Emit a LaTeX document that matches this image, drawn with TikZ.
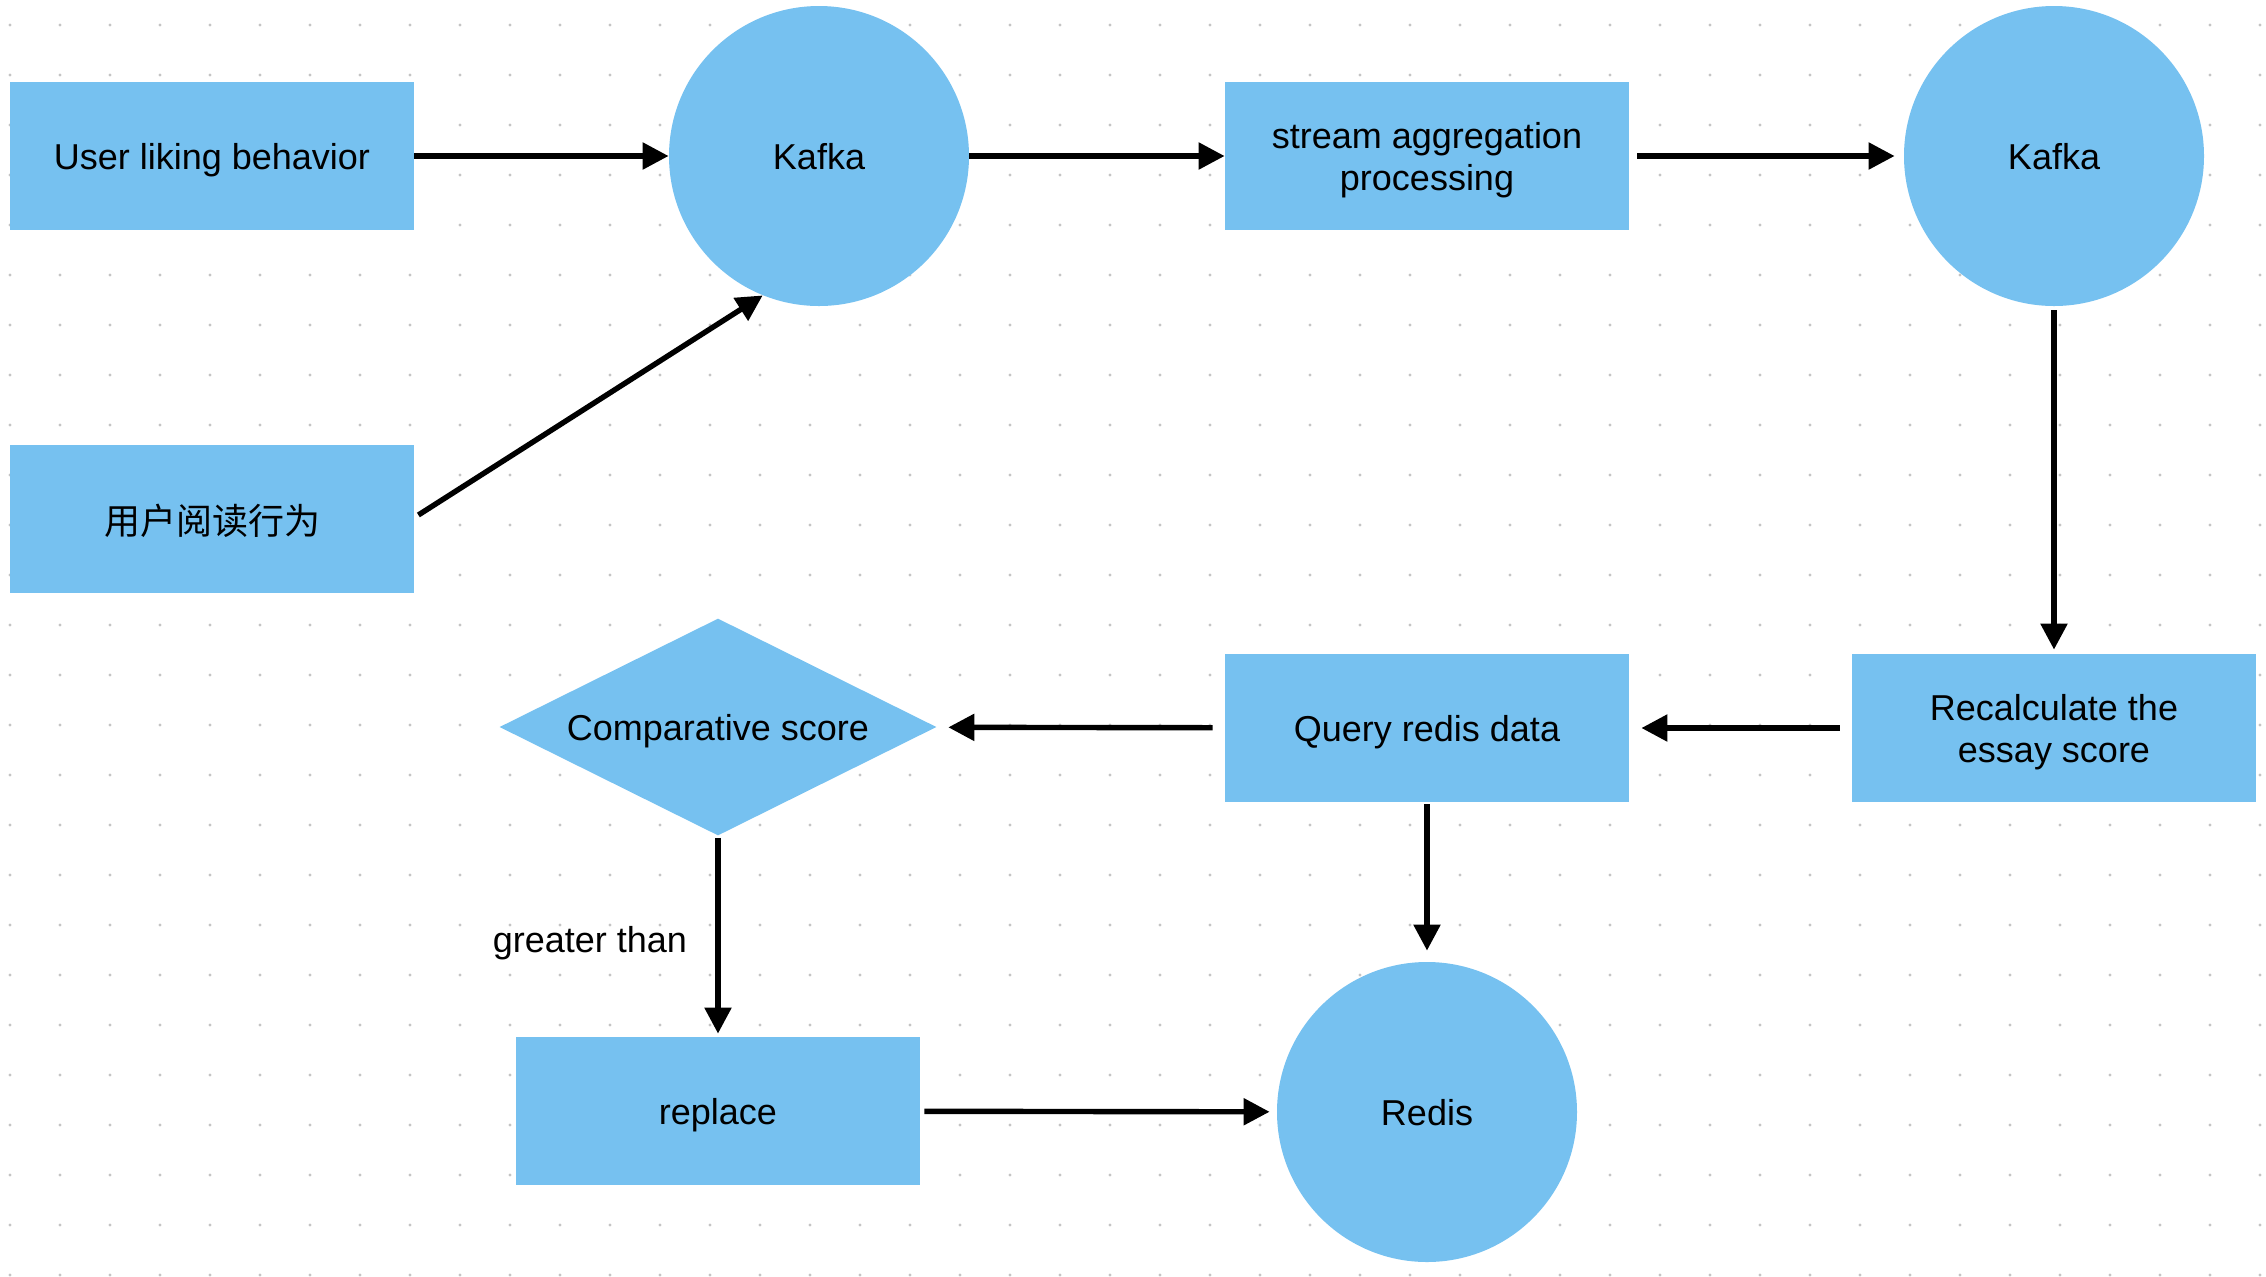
\documentclass[tikz,border=0pt]{standalone}
\usepackage{fontspec}
\setmainfont{Liberation Sans}
\newfontfamily\cjk{Noto Sans CJK SC}
\usetikzlibrary{shapes.geometric,arrows.meta,calc}
\definecolor{boxblue}{RGB}{118,193,240}
\definecolor{dotc}{RGB}{196,196,196}
\begin{document}
\begin{tikzpicture}[x=0.5pt,y=-0.5pt,
  every node/.style={font=\fontsize{18pt}{21pt}\selectfont, text=black, text depth=0pt},
  box/.style={rectangle, fill=boxblue, minimum width=202pt, minimum height=74pt, inner sep=0pt, align=center},
  circ/.style={circle, fill=boxblue, minimum size=150pt, inner sep=0pt},
  dia/.style={diamond, fill=boxblue, aspect=2, minimum width=218.5pt, minimum height=108.5pt, inner sep=0pt},
  conn/.style={line width=2.7pt, -{Triangle[length=13pt,width=13pt]}}
]
\useasboundingbox (0,0) rectangle (2266,1276);
\fill[white] (0,0) rectangle (2266,1276);
\foreach \i in {0,...,45}{
  \foreach \j in {0,...,25}{
    \fill[dotc] ({10+50*\i},{25+50*\j}) circle (0.85pt);
  }
}
\node[box] (u1) at (212,156) {User liking behavior};
\node[box] (u2) at (212,519) {\cjk 用户阅读行为};
\node[circ] (k1) at (819,156) {Kafka};
\node[box] (s) at (1427,156) {stream aggregation\\processing};
\node[circ] (k2) at (2054,156) {Kafka};
\node[box] (rc) at (2054,728) {Recalculate the\\essay score};
\node[box] (q) at (1427,728) {Query redis data};
\node[dia] (d) at (718,727) {Comparative score};
\node[box] (rp) at (718,1111) {replace};
\node[circ] (rd) at (1427,1112) {Redis};
\node (gt) at (590,939) {greater than};

\draw[conn] (u1) -- (k1);
\draw[conn] (k1) -- (s);
\draw[conn, shorten <=4pt, shorten >=4.5pt] (s) -- (k2);
\draw[conn, shorten <=2pt, shorten >=2pt] (k2) -- (rc);
\draw[conn, shorten <=6pt, shorten >=6pt] (rc) -- (q);
\draw[conn, shorten <=6pt, shorten >=6pt] (q) -- (d);
\draw[conn, shorten <=1pt, shorten >=5.5pt] (q) -- (rd);
\draw[conn, shorten <=1pt, shorten >=1.5pt] (d) -- (rp);
\draw[conn, shorten <=2pt, shorten >=3.5pt] (rp) -- (rd);
\draw[conn] ($(u2.east)+(4,-4)$) -- (k1.248.7);
\end{tikzpicture}
\end{document}
